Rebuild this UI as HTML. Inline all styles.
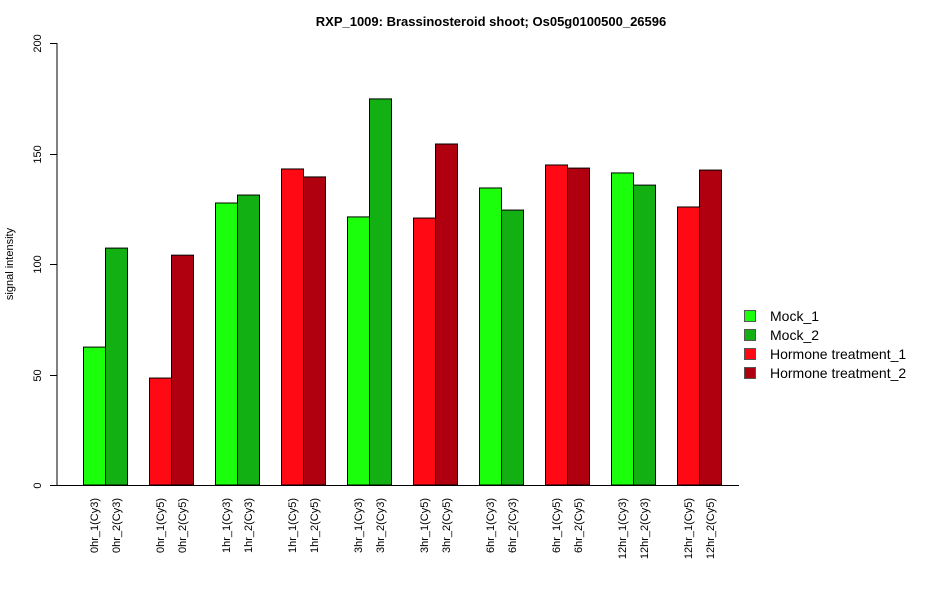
<!DOCTYPE html>
<html><head><meta charset="utf-8"><style>body{margin:0;background:#fff}svg{display:block;font-family:"Liberation Sans",Arial,sans-serif}</style></head>
<body>
<svg id="chart" width="950" height="600" viewBox="0 0 950 600" xmlns="http://www.w3.org/2000/svg">
<text x="491" y="26" text-anchor="middle" font-size="13" font-weight="bold">RXP_1009: Brassinosteroid shoot; Os05g0100500_26596</text>
<text transform="translate(13,264) rotate(-90)" text-anchor="middle" font-size="11">signal intensity</text>
<g id="axes"></g>
<g id="bars"></g>
<g id="legend"></g>
</svg>
<script>
const categories=["0hr_1(Cy3)","0hr_2(Cy3)","0hr_1(Cy5)","0hr_2(Cy5)","1hr_1(Cy3)","1hr_2(Cy3)","1hr_1(Cy5)","1hr_2(Cy5)","3hr_1(Cy3)","3hr_2(Cy3)","3hr_1(Cy5)","3hr_2(Cy5)","6hr_1(Cy3)","6hr_2(Cy3)","6hr_1(Cy5)","6hr_2(Cy5)","12hr_1(Cy3)","12hr_2(Cy3)","12hr_1(Cy5)","12hr_2(Cy5)"];
const values=[62.4,107.2,48.4,104,127.6,131.2,143,139.4,121.3,174.7,120.8,154.3,134.4,124.4,144.8,143.4,141.2,135.7,125.8,142.5];
const seriesIdx=[0,1,2,3,0,1,2,3,0,1,2,3,0,1,2,3,0,1,2,3];
const seriesNames=["Mock_1","Mock_2","Hormone treatment_1","Hormone treatment_2"];
const yTicks=[0,50,100,150,200];
const colors=["#1cff0c","#13b013","#ff0a14","#b00010"];
const NS="http://www.w3.org/2000/svg";
const y0=485,yTop=43,yMax=200;
const yScale=v=>y0-(v/yMax)*(y0-yTop);
const groupStart=83,groupStep=66,barW=22;
const xScale=i=>groupStart+Math.floor(i/2)*groupStep+(i%2)*barW;
function mk(tag,attrs,parent){const e=document.createElementNS(NS,tag);for(const k in attrs)e.setAttribute(k,attrs[k]);parent.appendChild(e);return e;}
const axes=document.getElementById('axes');
const yl=mk('line',{x1:57,x2:57,y1:yScale(yTicks[yTicks.length-1]),y2:yScale(0),stroke:'#000'},axes);


const xl=mk('line',{x1:50,x2:739,y1:y0+0.5,y2:y0+0.5,stroke:'#000'},axes);


yTicks.forEach(t=>{
  const y=Math.round(yScale(t))+0.5;
  const tk=mk('line',{x1:50,x2:57,y1:y,y2:y,stroke:'#000'},axes);
  
  
  const tx=mk('text',{transform:`translate(41,${y}) rotate(-90)`,'text-anchor':'middle','font-size':11},axes);
  
  
  tx.textContent=t;
});
const bars=document.getElementById('bars');
values.forEach((v,i)=>{
  const x=xScale(i),y=yScale(v);
  const r=mk('rect',{x:x+0.5,y:y,width:barW,height:y0-y,fill:colors[seriesIdx[i]],stroke:'#000','stroke-width':1},bars);
  
  
  const t=mk('text',{transform:`translate(${x+barW/2+4},498) rotate(-90)`,'text-anchor':'end','font-size':11},bars);
  
  
  t.textContent=categories[i];
});
const lg=document.getElementById('legend');
seriesNames.forEach((n,i)=>{
  const cy=316+i*19;
  const s=mk('rect',{x:744.5,y:cy-5.5,width:11,height:11,fill:colors[i],stroke:'#555'},lg);
  
  
  const t=mk('text',{x:770,y:cy+5,'font-size':14},lg);
  
  
  t.textContent=n;
});
</script>
</body></html>
